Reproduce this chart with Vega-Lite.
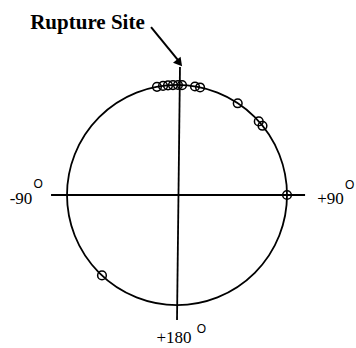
{
  "$schema": "https://vega.github.io/schema/vega-lite/v6.json",
  "width": 356,
  "height": 348,
  "autosize": "none",
  "padding": 0,
  "background": "white",
  "config": {"view": {"stroke": null}, "axis": {"disable": true}},
  "encoding": {
    "x": {"type": "quantitative", "scale": {"domain": [-1.609, 1.627], "zero": false, "nice": false}, "axis": null},
    "y": {"type": "quantitative", "scale": {"domain": [-1.391, 1.773], "zero": false, "nice": false}, "axis": null}
  },
  "layer": [
    {
      "data": {"values": [{"x": -1.145, "y": 0.0, "x2": 1.164, "y2": 0.0}, {"x": 0.027, "y": 1.164, "x2": 0.0, "y2": -1.136}]},
      "mark": {"type": "rule", "color": "black", "strokeWidth": 1.8},
      "encoding": {"x": {"field": "x"}, "y": {"field": "y"}, "x2": {"field": "x2"}, "y2": {"field": "y2"}}
    },
    {
      "data": {"values": [{"x": 0, "y": 0}]},
      "mark": {"type": "point", "shape": "circle", "filled": false, "size": 48400, "stroke": "black", "strokeWidth": 1.8, "opacity": 1},
      "encoding": {"x": {"field": "x"}, "y": {"field": "y"}}
    },
    {
      "data": {"values": [
        {"angle": -10.5, "x": -0.1822, "y": 0.9833},
        {"angle": -7.3, "x": -0.1271, "y": 0.9919},
        {"angle": -4.7, "x": -0.0819, "y": 0.9966},
        {"angle": -2.1, "x": -0.0366, "y": 0.9993},
        {"angle": 0.5, "x": 0.0087, "y": 1.0},
        {"angle": 2.6, "x": 0.0454, "y": 0.999},
        {"angle": 9.4, "x": 0.1633, "y": 0.9866},
        {"angle": 12.1, "x": 0.2096, "y": 0.9778},
        {"angle": 33.5, "x": 0.5519, "y": 0.8339},
        {"angle": 48, "x": 0.7431, "y": 0.6691},
        {"angle": 51, "x": 0.7771, "y": 0.6293},
        {"angle": 90, "x": 1.0, "y": 0.0},
        {"angle": -137, "x": -0.682, "y": -0.7314}
      ]},
      "mark": {"type": "point", "shape": "circle", "filled": false, "size": 75, "stroke": "black", "strokeWidth": 1.5, "opacity": 1},
      "encoding": {"x": {"field": "x"}, "y": {"field": "y"}}
    },
    {
      "data": {"values": [{"x": -0.236, "y": 1.527, "x2": 0.015, "y2": 1.22}]},
      "mark": {"type": "rule", "color": "black", "strokeWidth": 2},
      "encoding": {"x": {"field": "x"}, "y": {"field": "y"}, "x2": {"field": "x2"}, "y2": {"field": "y2"}}
    },
    {
      "data": {"values": [{"x": 0.022, "y": 1.2}]},
      "mark": {"type": "point", "shape": "triangle-up", "filled": true, "size": 95, "color": "black", "opacity": 1, "angle": 141},
      "encoding": {"x": {"field": "x"}, "y": {"field": "y"}}
    },
    {
      "data": {"values": [{"label": "Rupture Site", "x": -0.814, "y": 1.51}]},
      "mark": {"type": "text", "font": "Liberation Serif", "fontWeight": "bold", "fontSize": 21, "align": "center", "baseline": "alphabetic", "color": "black"},
      "encoding": {"x": {"field": "x"}, "y": {"field": "y"}, "text": {"field": "label"}}
    },
    {
      "data": {"values": [
        {"label": "-90", "x": -1.418, "y": -0.082},
        {"label": "+90", "x": 1.395, "y": -0.082},
        {"label": "+180", "x": -0.027, "y": -1.345}
      ]},
      "mark": {"type": "text", "font": "Liberation Serif", "fontSize": 17, "align": "center", "baseline": "alphabetic", "color": "black"},
      "encoding": {"x": {"field": "x"}, "y": {"field": "y"}, "text": {"field": "label"}}
    },
    {
      "data": {"values": [
        {"label": "O", "x": -1.262, "y": 0.064},
        {"label": "O", "x": 1.57, "y": 0.055},
        {"label": "O", "x": 0.222, "y": -1.255}
      ]},
      "mark": {"type": "text", "font": "Liberation Sans", "fontSize": 12, "align": "center", "baseline": "alphabetic", "color": "black"},
      "encoding": {"x": {"field": "x"}, "y": {"field": "y"}, "text": {"field": "label"}}
    }
  ]
}
